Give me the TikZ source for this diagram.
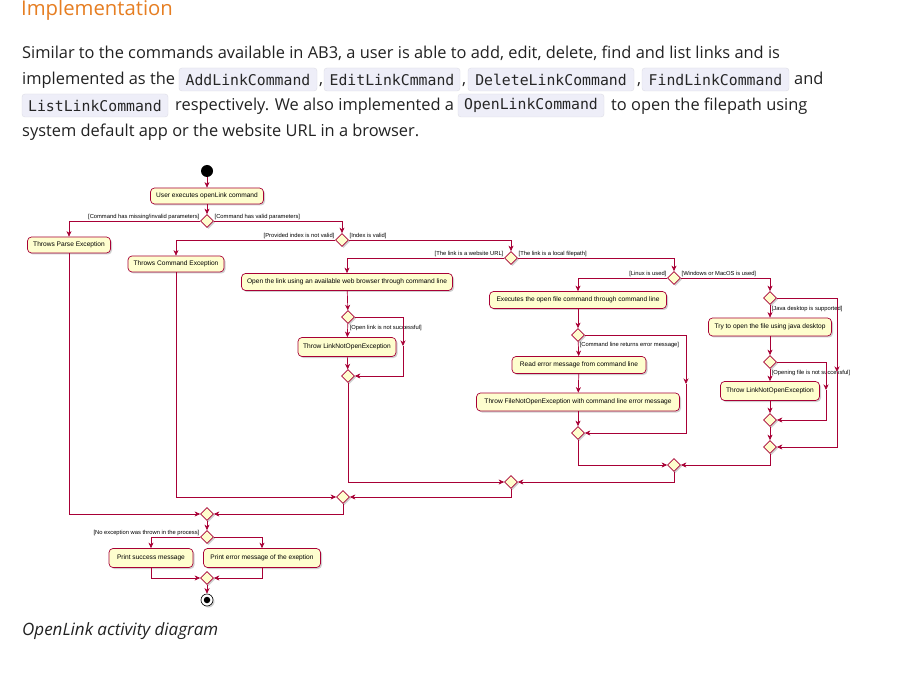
\documentclass[tikz,border=0pt]{standalone}
\usepackage{fontspec}
\setmainfont{Open Sans}[FakeStretch=1.0]
\newfontfamily\dgfont{Liberation Sans}
\newfontfamily\codefont{DejaVu Sans Mono}
\usetikzlibrary{shapes.geometric,arrows.meta,shadows}
\definecolor{pred}{HTML}{A80036}
\definecolor{pfill}{HTML}{FEFECE}
\definecolor{codebg}{HTML}{EEEEF8}
\definecolor{orng}{HTML}{E67E22}
\definecolor{bodytxt}{HTML}{222222}
\tikzset{
  shad/.style={drop shadow={shadow xshift=1.5pt,shadow yshift=-1.5pt,opacity=0.3,fill=black!60}},
  act/.style={rectangle, rounded corners=4pt, draw=pred, line width=0.7pt, fill=pfill,
    font=\dgfont\fontsize{6.6}{7.5}\selectfont, inner sep=0pt, shad},
  dia/.style={diamond, aspect=1, draw=pred, line width=0.7pt, fill=pfill,
    minimum size=13pt, inner sep=0pt, shad},
  arr/.style={draw=pred, line width=0.7pt, -{Stealth[length=5.5pt,width=5pt,inset=1.6pt]}},
  grd/.style={font=\dgfont\fontsize{5.8}{6.5}\selectfont, inner sep=0.6pt},
  body/.style={anchor=base west, inner sep=0pt, text=bodytxt, font=\fontsize{16.4}{20}\selectfont},
  code/.style={rectangle, rounded corners=3pt, fill=codebg, draw=codebg!85!gray, line width=0.4pt,
    minimum height=23pt, inner sep=0pt, text=black!85, font=\codefont\fontsize{14.8}{16}\selectfont}
}
\begin{document}
\begin{tikzpicture}[x=1pt,y=-1pt]
\fill[white] (0,0) rectangle (915,684);
\useasboundingbox (0,0) rectangle (915,684);

% ---------- text ----------
\node[anchor=base west, inner sep=0pt, text=orng, font=\fontsize{20.3}{24}\selectfont] (title) at (21,16) {Implementation};
\node[body] (l1) at (22,59) {Similar to the commands available in AB3, a user is able to add, edit, delete, find and list links and is};
\node[body] (l2a) at (22,85) {implemented as the};
\node[code, minimum width=138pt] (c1) at (248,79.5) {AddLinkCommand};
\node[body] (l2b) at (319,85) {,};
\node[code, minimum width=136pt] (c2) at (392,79.5) {EditLinkCmmand};
\node[body] (l2c) at (462,85) {,};
\node[code, minimum width=166pt] (c3) at (551,79.5) {DeleteLinkCommand};
\node[body] (l2d) at (637,85) {,};
\node[code, minimum width=147pt] (c4) at (715.5,79.5) {FindLinkCommand};
\node[body] (l2e) at (794,85) {and};
\node[code, minimum width=146pt] (c5) at (95,105.5) {ListLinkCommand};
\node[body] (l3a) at (175,111) {respectively. We also implemented a};
\node[code, minimum width=146pt] (c6) at (531,105.5) {OpenLinkCommand};
\node[body] (l3b) at (611,111) {to open the filepath using};
\node[body] (l4) at (22,137) {system default app or the website URL in a browser.};
\node[body, font=\fontsize{17}{20}\selectfont\itshape] (cap) at (22,635) {OpenLink activity diagram};

% ---------- diagram nodes ----------
\node[circle, fill=black, minimum size=12pt, inner sep=0pt] (start) at (207,171) {};
\node[act, minimum width=113pt, minimum height=16pt] (n1) at (207,196) {User executes openLink command};
\node[dia] (d1) at (207,221) {};
\node[act, minimum width=83pt, minimum height=16pt] (parse) at (69,245) {Throws Parse Exception};
\node[dia] (d2) at (342,240) {};
\node[act, minimum width=96pt, minimum height=16pt] (cmdex) at (176,264) {Throws Command Exception};
\node[dia] (d3) at (511,258) {};
\node[act, minimum width=211pt, minimum height=17pt] (web) at (347,282) {Open the link using an available web browser through command line};
\node[dia] (d4) at (674,278) {};
\node[act, minimum width=177pt, minimum height=17pt] (exe) at (578,300) {Executes the open file command through command line};
\node[dia] (d5) at (770,298) {};
\node[act, minimum width=123pt, minimum height=18pt] (try) at (770,327) {Try to open the file using java desktop};
\node[dia] (w1) at (348,317) {};
\node[act, minimum width=98pt, minimum height=19pt] (wthrow) at (347,347) {Throw LinkNotOpenException};
\node[dia] (w1m) at (348,376) {};
\node[dia] (l1d) at (578,335) {};
\node[act, minimum width=134pt, minimum height=17pt] (read) at (579,365) {Read error message from command line};
\node[act, minimum width=203pt, minimum height=18pt] (fthrow) at (578,402) {Throw FileNotOpenException with command line error message};
\node[dia] (a) at (578,433) {};
\node[dia] (d6) at (770,362) {};
\node[act, minimum width=99pt, minimum height=19pt] (jthrow) at (770,391) {Throw LinkNotOpenException};
\node[dia] (d6m) at (770,420) {};
\node[dia] (d5m) at (770,447) {};
\node[dia] (b) at (674,465) {};
\node[dia] (c) at (511,482) {};
\node[dia] (e) at (343,497) {};
\node[dia] (f) at (207,514) {};
\node[dia] (g) at (207,537) {};
\node[act, minimum width=84pt, minimum height=19pt] (succ) at (151,558) {Print success message};
\node[act, minimum width=117pt, minimum height=19pt] (perr) at (262,558) {Print error message of the exeption};
\node[dia] (h) at (207,578) {};
\node[circle, draw=black, line width=0.6pt, fill=white, minimum size=12pt, inner sep=0pt, shad] (end) at (207,600) {};
\node[circle, fill=black, minimum size=6.5pt, inner sep=0pt] (endin) at (end) {};

% ---------- guards ----------
\node[grd, anchor=south east] at (d1.west) {[Command has missing/invalid parameters]};
\node[grd, anchor=south west] at (d1.east) {[Command has valid parameters]};
\node[grd, anchor=south east] at (d2.west) {[Provided index is not valid]};
\node[grd, anchor=south west] at (d2.east) {[Index is valid]};
\node[grd, anchor=south east] at (d3.west) {[The link is a website URL]};
\node[grd, anchor=south west] at (d3.east) {[The link is a local filepath]};
\node[grd, anchor=south east] at (d4.west) {[Linux is used]};
\node[grd, anchor=south west] at (d4.east) {[Windows or MacOS is used]};
\node[grd, anchor=west] at (771,309) {[Java desktop is supported]};
\node[grd, anchor=west] at (771,373) {[Opening file is not successful]};
\node[grd, anchor=west] at (349,328) {[Open link is not successful]};
\node[grd, anchor=west] at (579,345) {[Command line returns error message]};
\node[grd, anchor=south east] at (g.west) {[No exception was thrown in the process]};

% ---------- connectors ----------
\coordinate (m5) at (837,372);
\coordinate (m6) at (826,390);
\coordinate (mw) at (403,346);
\coordinate (ml) at (686,384);

\draw[arr] (start) -- (n1);
\draw[arr] (n1) -- (d1);
\draw[arr] (d1.west) -| (parse.north);
\draw[arr] (d1.east) -| (d2.north);
\draw[arr] (d2.west) -| (cmdex.north);
\draw[arr] (d2.east) -| (d3.north);
\draw[arr] (d3.west) -| (web.north);
\draw[arr] (d3.east) -| (d4.north);
\draw[arr] (d4.west) -| (exe.north);
\draw[arr] (d4.east) -| (d5.north);

\draw[arr] (d5) -- (try);
\draw[arr] (d5.east) -| (m5);
\draw[arr] (m5) |- (d5m.east);
\draw[arr] (try) -- (d6);
\draw[arr] (d6) -- (jthrow);
\draw[arr] (d6.east) -| (m6);
\draw[arr] (m6) |- (d6m.east);
\draw[arr] (jthrow) -- (d6m);
\draw[arr] (d6m) -- (d5m);

\draw[arr] (web) -- (w1);
\draw[arr] (w1) -- (wthrow);
\draw[arr] (w1.east) -| (mw);
\draw[arr] (mw) |- (w1m.east);
\draw[arr] (wthrow) -- (w1m);

\draw[arr] (exe) -- (l1d);
\draw[arr] (l1d) -- (read);
\draw[arr] (read) -- (fthrow);
\draw[arr] (fthrow) -- (a);
\draw[arr] (l1d.east) -| (ml);
\draw[arr] (ml) |- (a.east);

\draw[arr] (a.south) |- (b.west);
\draw[arr] (d5m.south) |- (b.east);
\draw[arr] (b.south) |- (c.east);
\draw[arr] (w1m.south) |- (c.west);
\draw[arr] (c.south) |- (e.east);
\draw[arr] (cmdex.south) |- (e.west);
\draw[arr] (e.south) |- (f.east);
\draw[arr] (parse.south) |- (f.west);
\draw[arr] (f) -- (g);
\draw[arr] (g.west) -| (succ.north);
\draw[arr] (g.east) -| (perr.north);
\draw[arr] (succ.south) |- (h.west);
\draw[arr] (perr.south) |- (h.east);
\draw[arr] (h) -- (end);
\end{tikzpicture}
\end{document}
